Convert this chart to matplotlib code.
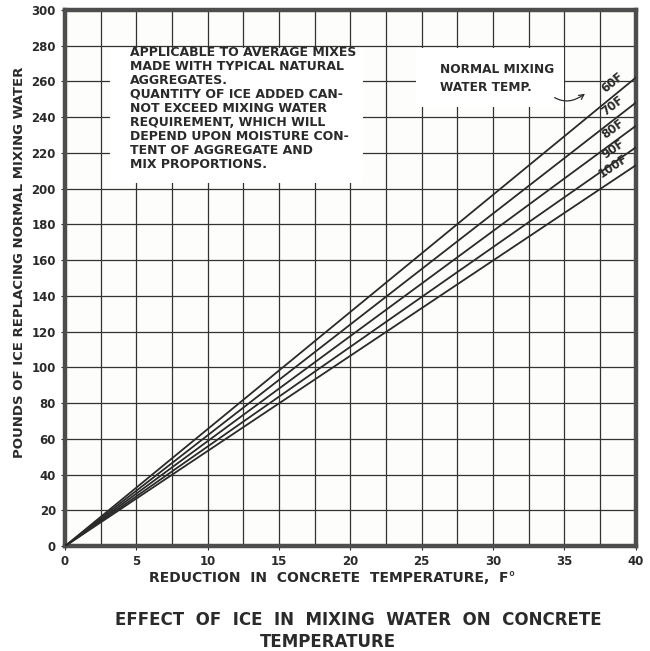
import numpy as np
import matplotlib.pyplot as plt
from matplotlib.patches import Rectangle

# Reduction in concrete temperature (F) -- lines run from the origin
reduction = [0, 40]
# Normal mixing water temperatures and pounds of ice at 40 F reduction
water_temps = ["60F", "70F", "80F", "90F", "100F"]
ice_at_40 = [262, 248, 235, 223, 213]

note = ("APPLICABLE TO AVERAGE MIXES\n"
        "MADE WITH TYPICAL NATURAL\n"
        "AGGREGATES.\n"
        "QUANTITY OF ICE ADDED CAN-\n"
        "NOT EXCEED MIXING WATER\n"
        "REQUIREMENT, WHICH WILL\n"
        "DEPEND UPON MOISTURE CON-\n"
        "TENT OF AGGREGATE AND\n"
        "MIX PROPORTIONS.")

ink = "#2a2a2a"
plt.rcParams['font.family'] = ['DejaVu Sans']
plt.rcParams['font.weight'] = 'bold'
plt.rcParams['axes.labelweight'] = 'bold'

fig = plt.figure(figsize=(6.5, 6.51), dpi=100)
fig.patch.set_facecolor("white")
ax = fig.add_axes([0.1, 0.161, 0.878, 0.824])
ax.set_facecolor("#fdfdfb")

ax.set_xlim(0, 40)
ax.set_ylim(0, 300)
ax.set_xticks(np.arange(0, 41, 5))
ax.set_yticks(np.arange(0, 301, 20))
ax.set_xticks(np.arange(0, 41, 2.5), minor=True)
ax.grid(True, which="both", color="#333333", linewidth=0.9)
ax.set_axisbelow(True)
ax.tick_params(which="minor", length=0)
ax.tick_params(which="major", length=3, color=ink, labelsize=8.5,
               labelcolor=ink)
for s in ax.spines.values():
    s.set_linewidth(3.2)
    s.set_color("#4d4d4d")

# white panels behind the notes (they break the grid in the original)
ax.add_patch(Rectangle((3.15, 203), 17.75, 75.5, facecolor="white",
                       edgecolor="none", zorder=1))
ax.add_patch(Rectangle((24.6, 245.5), 10.4, 33, facecolor="white",
                       edgecolor="none", zorder=1))

for name, end in zip(water_temps, ice_at_40):
    ax.plot(reduction, [0, end], color=ink, linewidth=1.3, zorder=3)
    lx = 38.4
    ly = end * lx / 40 + 8
    ang = ax.transData.transform_angles(
        np.array([np.degrees(np.arctan2(end, 40))]), np.array([[lx, ly]]))[0]
    ax.text(lx, ly, name, rotation=ang, ha="center", va="center",
            fontsize=8.5, color=ink, rotation_mode="anchor", zorder=4)

ax.text(4.55, 280, note, ha="left", va="top", fontsize=9, color=ink,
        linespacing=1.1, zorder=4)

ax.annotate("NORMAL MIXING\nWATER TEMP.", xy=(36.6, 254), xytext=(26.3, 261.5),
            ha="left", va="center", fontsize=8.7, color=ink, linespacing=1.5,
            zorder=4,
            arrowprops=dict(arrowstyle="->", color=ink, lw=0.9,
                            connectionstyle="arc3,rad=0.5",
                            shrinkA=1, shrinkB=2,
                            relpos=(0.9, 0.22)))

ax.set_xlabel("REDUCTION  IN  CONCRETE  TEMPERATURE,  F°", fontsize=10,
              color=ink)
ax.xaxis.set_label_coords(0.468, -0.047)
ax.set_ylabel("POUNDS OF ICE REPLACING NORMAL MIXING WATER", fontsize=9.5,
              color=ink)
ax.yaxis.set_label_coords(-0.068, 0.53)

fig.text(358 / 650, 1 - 620 / 651,
         "EFFECT  OF  ICE  IN  MIXING  WATER  ON  CONCRETE",
         ha="center", va="center", fontsize=12, color=ink)
fig.text(328 / 650, 1 - 642 / 651, "TEMPERATURE",
         ha="center", va="center", fontsize=12, color=ink)

fig.savefig("out.png", dpi=100)
